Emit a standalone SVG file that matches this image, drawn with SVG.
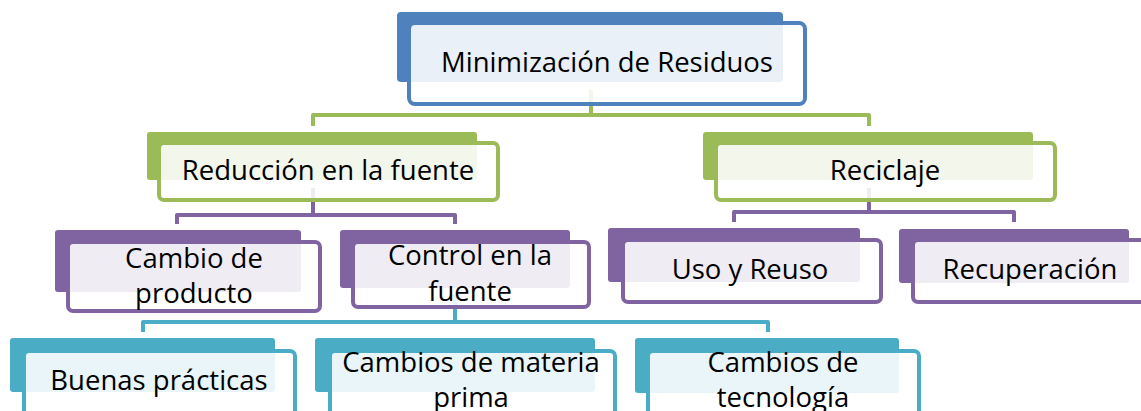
<svg xmlns="http://www.w3.org/2000/svg" width="1141" height="411" viewBox="0 0 1141 411">
<style>
.conn{fill:none;stroke-width:4;stroke-linejoin:round}
.front{fill:#ffffff;fill-opacity:0.88;stroke-width:4}
.t{font-family:"Open Sans","Liberation Sans",sans-serif;font-size:27.5px;fill:#000;text-anchor:middle}
.blue{fill:#4F81BD}.green{fill:#9BBB59}.purple{fill:#8064A2}.teal{fill:#4BACC6}
</style>
<rect width="1141" height="411" fill="#ffffff"/>
<g id="connectors">
<path class="conn" stroke="#9BBB59" d="M591,90 V115 M313,126 V115 H869 V126"/>
<path class="conn" stroke="#8064A2" d="M313,188 V215 M177,224 V215 H455 V224"/>
<path class="conn" stroke="#8064A2" d="M869,188 V212 M734,222 V212 H1014 V222"/>
<path class="conn" stroke="#4BACC6" d="M455,295 V322 M143,332 V322 H768 V332"/>
</g>
<g id="n-minimizacion">
<rect class="blue" x="397" y="12" width="386" height="70" rx="4"/>
<rect class="front" stroke="#4F81BD" x="409" y="23" width="396" height="81" rx="6"/>
<text class="t" x="607" y="72">Minimización de Residuos</text>
</g>
<g id="n-reduccion">
<rect class="green" x="147" y="132" width="330" height="48" rx="3"/>
<rect class="front" stroke="#9BBB59" x="159" y="143" width="339" height="57" rx="5"/>
<text class="t" x="328" y="180">Reducción en la fuente</text>
</g>
<g id="n-reciclaje">
<rect class="green" x="703" y="132" width="330" height="48" rx="3"/>
<rect class="front" stroke="#9BBB59" x="716" y="143" width="339" height="57" rx="5"/>
<text class="t" x="885" y="180">Reciclaje</text>
</g>
<g id="n-cambio-producto">
<rect class="purple" x="55" y="230" width="246" height="62" rx="3"/>
<rect class="front" stroke="#8064A2" x="68" y="242" width="252" height="69" rx="5"/>
<text class="t" x="194" y="268">Cambio de</text>
<text class="t" x="194" y="303">producto</text>
</g>
<g id="n-control">
<rect class="purple" x="340" y="230" width="230" height="58" rx="3"/>
<rect class="front" stroke="#8064A2" x="353" y="242" width="236" height="65" rx="5"/>
<text class="t" x="470" y="265">Control en la</text>
<text class="t" x="470" y="301">fuente</text>
</g>
<g id="n-uso">
<rect class="purple" x="608" y="228" width="252" height="54" rx="3"/>
<rect class="front" stroke="#8064A2" x="623" y="240" width="258" height="62" rx="5"/>
<text class="t" x="750" y="279">Uso y Reuso</text>
</g>
<g id="n-recuperacion">
<rect class="purple" x="899" y="229" width="230" height="54" rx="3"/>
<rect class="front" stroke="#8064A2" x="913" y="240" width="250" height="62" rx="5"/>
<text class="t" x="1030" y="279">Recuperación</text>
</g>
<g id="n-buenas">
<rect class="teal" x="10" y="338" width="265" height="54" rx="3"/>
<rect class="front" stroke="#4BACC6" x="24" y="351" width="271" height="72" rx="5"/>
<text class="t" x="159" y="390">Buenas prácticas</text>
</g>
<g id="n-materia">
<rect class="teal" x="315" y="338" width="280" height="54" rx="3"/>
<rect class="front" stroke="#4BACC6" x="330" y="351" width="285" height="72" rx="5"/>
<text class="t" x="471" y="372">Cambios de materia</text>
<text class="t" x="471" y="407">prima</text>
</g>
<g id="n-tecnologia">
<rect class="teal" x="635" y="338" width="264" height="55" rx="3"/>
<rect class="front" stroke="#4BACC6" x="648" y="351" width="271" height="72" rx="5"/>
<text class="t" x="783" y="372">Cambios de</text>
<text class="t" x="783" y="407">tecnología</text>
</g>
</svg>
